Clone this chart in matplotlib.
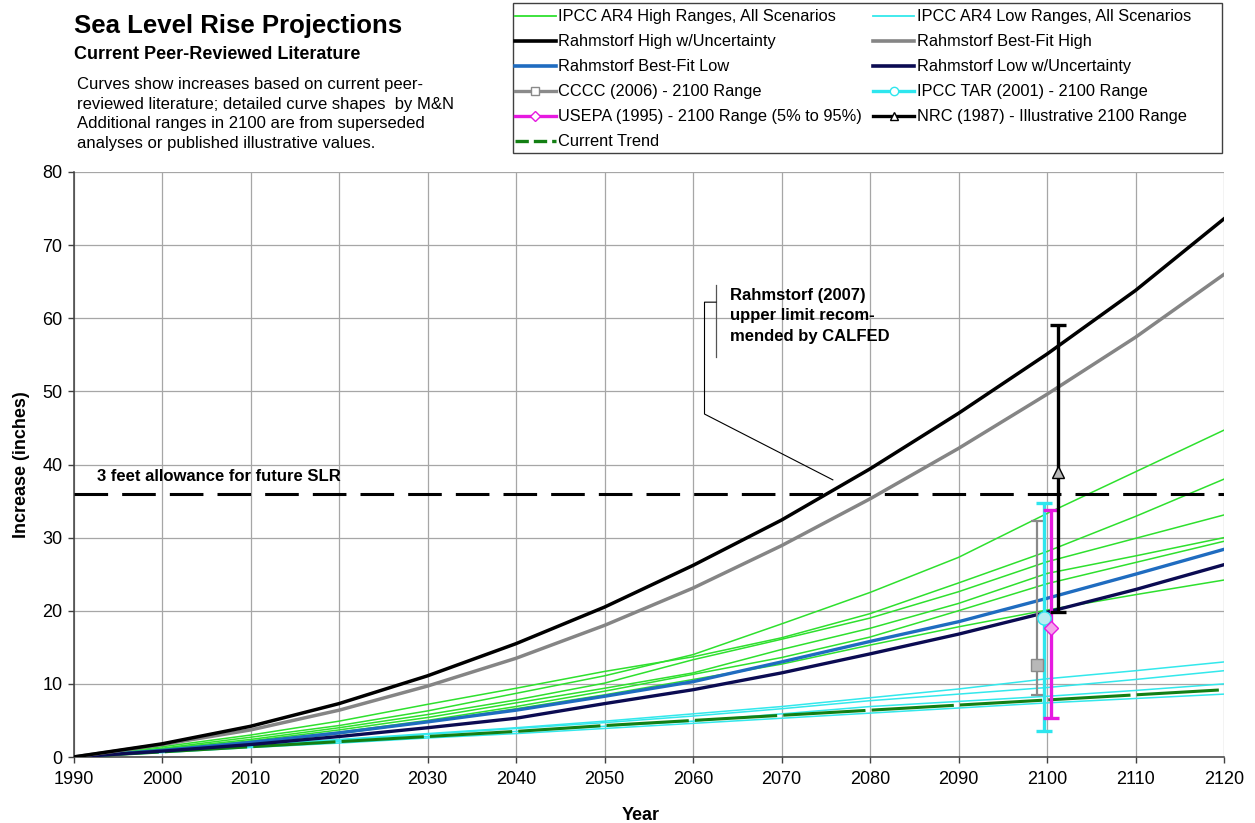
import matplotlib
matplotlib.use("Agg")
import matplotlib.pyplot as plt
from matplotlib.lines import Line2D
from matplotlib.patches import Rectangle

plt.rcParams['font.family'] = ['Liberation Sans', 'DejaVu Sans']

# ---- data (inches of rise relative to 1990) ----
years = [1990, 2000, 2010, 2020, 2030, 2040, 2050, 2060, 2070, 2080, 2090, 2100, 2110, 2120]

ar4_high = [
    [0, 1.2, 2.7, 4.3, 6.3, 8.7, 11.1, 14.0, 18.2, 22.5, 27.3, 33.3, 39.0, 44.7],
    [0, 1.4, 3.0, 4.9, 7.2, 9.4, 11.7, 13.7, 16.3, 19.6, 23.8, 28.1, 32.9, 38.0],
    [0, 1.1, 2.4, 4.0, 5.8, 7.8, 10.1, 13.3, 16.1, 19.0, 22.6, 26.7, 29.9, 33.1],
    [0, 1.0, 2.2, 3.7, 5.4, 7.4, 9.4, 11.5, 14.7, 17.6, 21.0, 25.1, 27.5, 30.0],
    [0, 0.9, 2.0, 3.4, 5.0, 6.9, 9.0, 11.3, 13.6, 16.4, 20.0, 23.7, 26.6, 29.5],
    [0, 0.9, 1.9, 3.2, 4.8, 6.6, 8.5, 10.6, 12.7, 15.3, 17.8, 20.1, 22.2, 24.2],
]
ar4_low = [
    [0, 0.8, 1.6, 2.4, 3.2, 4.0, 4.9, 5.9, 6.9, 8.1, 9.3, 10.7, 11.8, 13.0],
    [0, 0.8, 1.5, 2.3, 3.1, 3.9, 4.7, 5.6, 6.6, 7.7, 8.6, 9.5, 10.6, 11.8],
    [0, 0.7, 1.4, 2.1, 2.8, 3.5, 4.2, 4.9, 5.9, 6.9, 7.6, 8.3, 9.1, 10.0],
    [0, 0.6, 1.3, 1.9, 2.6, 3.2, 3.9, 4.6, 5.3, 6.0, 6.7, 7.4, 8.0, 8.6],
]
rahm_high_unc = [0, 1.8, 4.2, 7.3, 11.1, 15.5, 20.5, 26.2, 32.4, 39.4, 47.0, 55.1, 63.8, 73.6]
rahm_bf_high = [0, 1.7, 3.7, 6.4, 9.7, 13.5, 18.0, 23.1, 28.9, 35.3, 42.2, 49.6, 57.4, 66.0]
rahm_bf_low = [0, 0.9, 2.0, 3.3, 4.8, 6.4, 8.3, 10.3, 13.0, 15.8, 18.5, 21.7, 25.0, 28.4]
rahm_low_unc = [0, 0.8, 1.7, 2.8, 4.0, 5.3, 7.3, 9.2, 11.5, 14.1, 16.8, 19.8, 22.9, 26.3]
current_trend = [0, 0.7, 1.4, 2.1, 2.8, 3.5, 4.3, 5.0, 5.7, 6.4, 7.1, 7.8, 8.5, 9.2]

allowance_3ft = 36

# 2100 ranges: (low, high, central)
range_year = 2100
cccc_2006 = (8.5, 32.3, 12.6)
ipcc_tar_2001 = (3.5, 34.7, 19.0)
usepa_1995 = (5.4, 33.8, 17.6)
nrc_1987 = (19.8, 59.1, 39.0)

note_lines = [
    'Curves show increases based on current peer-',
    'reviewed literature; detailed curve shapes  by M&N',
    'Additional ranges in 2100 are from superseded',
    'analyses or published illustrative values.',
]
callout_lines = ['Rahmstorf (2007)', 'upper limit recom-', 'mended by CALFED']

# ---- figure ----
W, H = 1255, 823
fig = plt.figure(figsize=(W / 100, H / 100), dpi=100)
x0, x1, ytop, ybot = 73.5, 1224, 172, 757
ax = fig.add_axes([x0 / W, 1 - ybot / H, (x1 - x0) / W, (ybot - ytop) / H])

GREEN = '#2ee02e'
CYAN = '#33e8ec'
for s in ar4_high:
    ax.plot(years, s, color=GREEN, lw=1.1, zorder=3)
for s in ar4_low:
    ax.plot(years, s, color=CYAN, lw=1.1, zorder=3)

# current trend: small gaps at every decade
ax.plot(years, current_trend, color='#137f13', lw=2.2, zorder=4,
        linestyle=(27.96, (26.96, 2.0)))

ax.plot(years, rahm_bf_low, color='#1f6cc0', lw=2.4, zorder=5)
ax.plot(years, rahm_low_unc, color='#0b0b52', lw=2.4, zorder=5)
ax.plot(years, rahm_bf_high, color='#858585', lw=2.5, zorder=5)
ax.plot(years, rahm_high_unc, color='black', lw=2.5, zorder=5)

ax.axhline(allowance_3ft, color='black', lw=2.2, linestyle=(0, (11, 4.6)), zorder=4)


def rng(off, vals, color, marker, face, ms, lw, cap):
    lo, hi, mid = vals
    ax.errorbar([range_year + off], [mid], yerr=[[mid - lo], [hi - mid]], fmt=marker,
                color=color, ecolor=color, elinewidth=lw, capsize=cap, capthick=lw,
                mfc=face, mec=color, ms=ms, zorder=7)


rng(-1.1, cccc_2006, '#8a8a8a', 's', '#b8b8b8', 8, 1.6, 4.5)
rng(-0.35, ipcc_tar_2001, '#2ee6ee', 'o', '#b8eef2', 9.5, 2.4, 5.5)
rng(0.45, usepa_1995, '#e619e0', 'D', '#f4a4ea', 7, 2.4, 5.5)
rng(1.25, nrc_1987, 'black', '^', '#b8b8b8', 9, 2.4, 5.5)

ax.set_xlim(1990, 2120)
ax.set_ylim(0, 80)
ax.set_xticks(range(1990, 2121, 10))
ax.set_yticks(range(0, 81, 10))
ax.grid(True, color='#a6a6a6', lw=0.9, zorder=0)
ax.set_axisbelow(True)
for sp in ['top', 'right']:
    ax.spines[sp].set_visible(False)
for sp in ['left', 'bottom']:
    ax.spines[sp].set_color('#404040')
    ax.spines[sp].set_linewidth(1.1)
ax.tick_params(axis='both', labelsize=13, length=4, width=1, color='#404040', pad=4)
ax.tick_params(axis='x', pad=6)
ax.set_xlabel('Year', fontsize=13, fontweight='bold')
ax.set_ylabel('Increase (inches)', fontsize=13, fontweight='bold')
ax.xaxis.set_label_coords(0.493, -0.086)
ax.yaxis.set_label_coords(-0.038, 0.5)

# annotations
ax.text(1992.7, 37.7, '3 feet allowance for future SLR', fontsize=12, fontweight='bold',
        va='baseline', ha='left', zorder=8)
for i, line in enumerate(callout_lines):
    fig.text(730 / W, 1 - (300 + 20.5 * i) / H, line, fontsize=12, fontweight='bold',
             va='baseline', ha='left', zorder=8)
callout_x = [2062.6, 2062.6]
callout_y = [64.5, 54.7]
ax.plot(callout_x, callout_y, color='#555555', lw=0.9, zorder=8)
leader_x = [2062.6, 2061.3, 2061.3, 2075.8]
leader_y = [62.2, 62.2, 46.9, 37.9]
ax.plot(leader_x, leader_y, color='black', lw=0.8, zorder=8)

# titles
fig.text(74 / W, 1 - 33 / H, 'Sea Level Rise Projections', fontsize=18.5, fontweight='bold',
         va='baseline', ha='left')
fig.text(74 / W, 1 - 59 / H, 'Current Peer-Reviewed Literature', fontsize=13, fontweight='bold',
         va='baseline', ha='left')
for i, line in enumerate(note_lines):
    fig.text(77 / W, 1 - (89 + 19.7 * i) / H, line, fontsize=12, va='baseline', ha='left')

# legend
h = {
    'ar4h': Line2D([], [], color=GREEN, lw=1.3),
    'ar4l': Line2D([], [], color=CYAN, lw=1.3),
    'rhu': Line2D([], [], color='black', lw=2.6),
    'rbh': Line2D([], [], color='#858585', lw=2.6),
    'rbl': Line2D([], [], color='#1f6cc0', lw=2.6),
    'rlu': Line2D([], [], color='#0b0b52', lw=2.6),
    'cccc': Line2D([], [], color='#8a8a8a', lw=2.4, marker='s', mfc='white', mec='#8a8a8a', ms=6),
    'tar': Line2D([], [], color='#2ee6ee', lw=2.4, marker='o', mfc='white', mec='#2ee6ee', ms=6),
    'epa': Line2D([], [], color='#e619e0', lw=2.4, marker='D', mfc='white', mec='#e619e0', ms=5),
    'nrc': Line2D([], [], color='black', lw=2.4, marker='^', mfc='white', mec='black', ms=6),
    'tr': Line2D([], [], color='#137f13', lw=2.4, linestyle=(0, (4, 1.5))),
}
order = [
    ('ar4h', 'IPCC AR4 High Ranges, All Scenarios'),
    ('rhu', 'Rahmstorf High w/Uncertainty'),
    ('rbl', 'Rahmstorf Best-Fit Low'),
    ('cccc', 'CCCC (2006) - 2100 Range'),
    ('epa', 'USEPA (1995) - 2100 Range (5% to 95%)'),
    ('tr', 'Current Trend'),
    ('ar4l', 'IPCC AR4 Low Ranges, All Scenarios'),
    ('rbh', 'Rahmstorf Best-Fit High'),
    ('rlu', 'Rahmstorf Low w/Uncertainty'),
    ('tar', 'IPCC TAR (2001) - 2100 Range'),
    ('nrc', 'NRC (1987) - Illustrative 2100 Range'),
]
fig.legend([h[k] for k, _ in order], [l for _, l in order], loc='upper left',
           bbox_to_anchor=(515 / W, 1 - 9.4 / H), bbox_transform=fig.transFigure,
           ncol=2, frameon=False, borderpad=0, borderaxespad=0, fontsize=11.8,
           handlelength=2.5, handletextpad=0.15, columnspacing=0.67, labelspacing=0.61,
           numpoints=1)
fig.patches.append(Rectangle((513 / W, 1 - 153 / H), 709 / W, 150 / H,
                             transform=fig.transFigure, fill=False, ec='#404040', lw=1))

fig.savefig('out.png', dpi=100)
